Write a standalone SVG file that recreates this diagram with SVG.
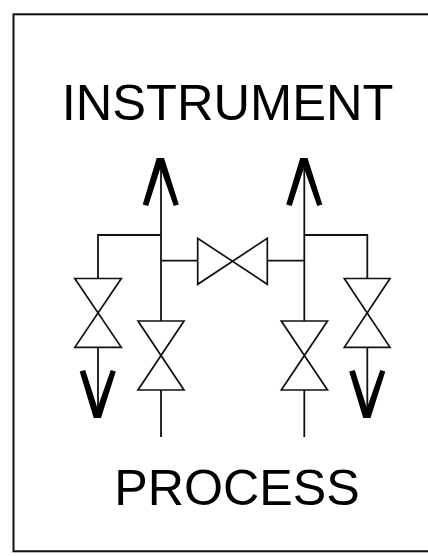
<svg xmlns="http://www.w3.org/2000/svg" width="428" height="556" viewBox="0 0 428 556">
<style>
.l{fill:none;stroke:#111;stroke-width:1.8}
.h{fill:#000}
.v{fill:#fff;stroke:#111;stroke-width:1.7}
text{font-family:"Liberation Sans",Arial,sans-serif;font-size:50.6px;fill:#000}
</style>
<defs>
<path id="up" class="h" d="M-18.300 46.500L-4.300 0H3L17.800 46.500L12.800 48L-.6 10L-12.800 48Z"/>
</defs>
<rect width="428" height="556" fill="#fff"/>
<rect x="13.500" y="14.300" width="416" height="537" fill="none" stroke="#111" stroke-width="2"/>
<text x="227.500" y="120" text-anchor="middle">INSTRUMENT</text>
<text x="237" y="505" text-anchor="middle" style="font-size:50.2px">PROCESS</text>
<g id="connectors">
<path class="l" d="M161 165V321M161 390V437M304.300 165V321M304.300 390V437M98 348V410M367.300 348V410M161 260.700H198M267.500 260.700H304.300"/>
<path class="l" stroke-width="2" d="M161 235H98V278.500M304.300 235H367.300V278.500"/>
<use href="#up" x="161" y="158"/>
<use href="#up" x="304.500" y="158"/>
<use href="#up" transform="translate(98 418) scale(1 -1)"/>
<use href="#up" transform="translate(367.500 418) scale(1 -1)"/>
</g>
<g id="valve-left-outer"><path class="v" d="M74.800 278.500H121.300L74.800 347.300H121.300Z"/></g>
<g id="valve-left-inner"><path class="v" d="M138 321H184L138 390H184Z"/></g>
<g id="valve-center"><path class="v" d="M197.700 238.300V284.300L267.300 238.300V284.300Z"/></g>
<g id="valve-right-inner"><path class="v" d="M281.300 321H327.500L281.300 390H327.500Z"/></g>
<g id="valve-right-outer"><path class="v" d="M344.300 278.500H390L344.300 347.300H390Z"/></g>
</svg>
